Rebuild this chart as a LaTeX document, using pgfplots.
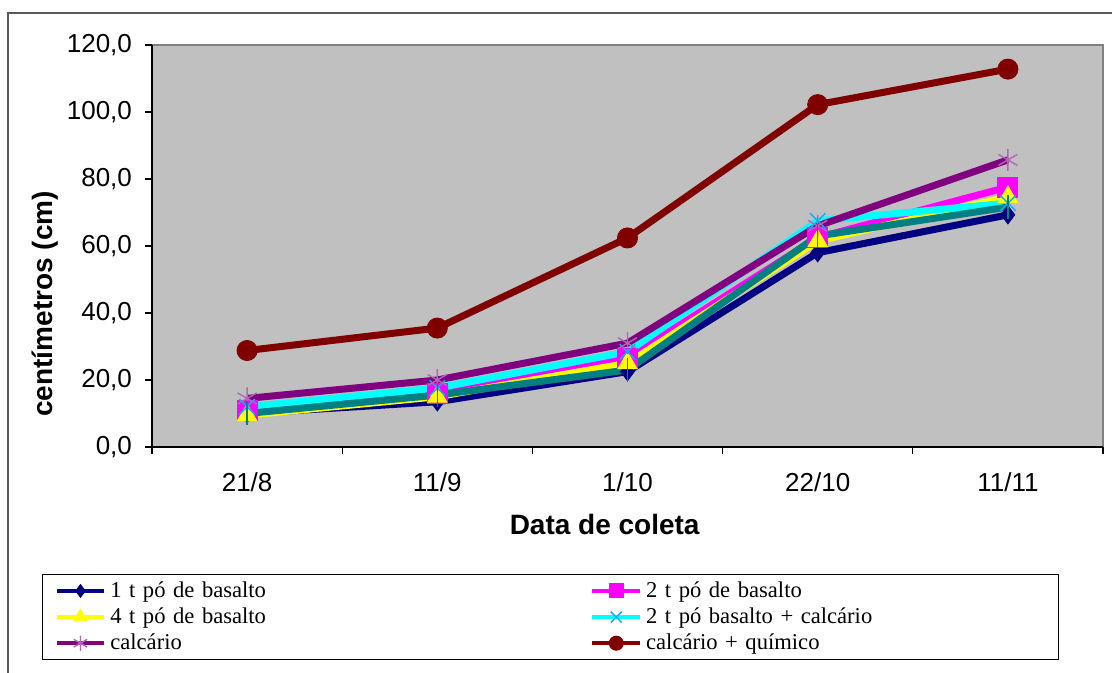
\documentclass[border=0pt]{standalone}
\usepackage{pgfplots}
\pgfplotsset{compat=1.18}
\usepackage{fontspec}
\setmainfont{Liberation Serif}
\newfontfamily\arial{Liberation Sans}
\definecolor{cNavy}{RGB}{0,0,128}
\definecolor{cMag}{RGB}{255,0,255}
\definecolor{cYel}{RGB}{255,255,0}
\definecolor{cCyan}{RGB}{0,255,255}
\definecolor{cPurp}{RGB}{128,0,128}
\definecolor{cRed}{RGB}{128,0,0}
\definecolor{cTeal}{RGB}{0,128,128}
\definecolor{cBg}{RGB}{192,192,192}
\definecolor{cBorder}{RGB}{128,128,128}
\begin{document}
\begin{tikzpicture}
\useasboundingbox (0,0) rectangle (556pt,336.5pt);
\draw[line width=0.8pt, color=black!65] (4pt,0pt) -- (4pt,330pt) -- (556pt,330pt);
\begin{axis}[
  at={(76pt,113pt)}, anchor=south west,
  scale only axis, width=475.5pt, height=201pt,
  xmin=0, xmax=5, ymin=0, ymax=120,
  axis background/.style={fill=cBg, draw=cBorder, line width=0.8pt},
  axis x line*=bottom, axis y line*=left,
  axis line style={black, line width=0.8pt},
  xtick={0,1,2,3,4,5},
  xticklabels={21/8,11/9,1/10,22/10,11/11},
  x tick label as interval,
  ytick={0,20,40,60,80,100,120},
  tick align=outside,
  major tick length=3.5pt,
  tick style={black, line width=0.6pt},
  /pgf/number format/.cd, fixed, fixed zerofill, precision=1, use comma, 1000 sep={}, assume math mode=true,
  /pgfplots/.cd,
  ticklabel style={font=\arial\fontsize{13}{15}\selectfont},
  yticklabel style={xshift=-3pt},
  xticklabel style={yshift=-6pt},
  xlabel={Data de coleta},
  ylabel={centímetros (cm)},
  label style={font=\arial\bfseries\fontsize{14}{16}\selectfont},
  xlabel style={at={(axis description cs:0.476,-0.194)}, anchor=center},
  ylabel style={at={(axis description cs:-0.112,0.356)}, anchor=center},
  legend columns=2,
  legend style={at={(axis description cs:-0.1157,-0.316)}, anchor=north west,
    draw=black, line width=0.6pt, inner xsep=6pt, inner ysep=1.5pt,
    font=\fontsize{11.3}{12.5}\selectfont, row sep=-0.3pt,
    /tikz/column 2/.style={text width=238pt},
    /tikz/column 4/.style={text width=198pt}},
  legend cell align=left,
  legend image code/.code={\draw[line width=2pt, mark repeat=2, mark phase=2, every mark/.append style={scale=0.7}] plot coordinates {(0cm,0cm)(0.42cm,0cm)(0.84cm,0cm)};},
  every axis plot/.append style={line width=3.5pt},
]
\addplot[color=cNavy, mark=diamond*, mark size=4.5pt, mark options={solid, line width=0.5pt}]
  coordinates {(0.5,10) (1.5,13.5) (2.5,22.5) (3.5,58) (4.5,69.3)};
\addlegendentry{1 t pó de basalto}
\addplot[color=cMag, mark=square*, mark size=5pt, mark options={solid, line width=0.5pt}]
  coordinates {(0.5,11) (1.5,16) (2.5,26.5) (3.5,62.5) (4.5,77.6)};
\addlegendentry{2 t pó de basalto}
\addplot[color=cYel, mark=triangle*, mark size=5.5pt, mark options={solid, line width=0.5pt}]
  coordinates {(0.5,9.5) (1.5,15) (2.5,25) (3.5,61.5) (4.5,74.6)};
\addlegendentry{4 t pó de basalto}
\addplot[color=cCyan, mark=x, mark size=5.5pt, mark options={solid, line width=0.7pt, color=cCyan!70!blue}]
  coordinates {(0.5,12) (1.5,17.6) (2.5,28.4) (3.5,67.5) (4.5,72.8)};
\addlegendentry{2 t pó basalto + calcário}
\addplot[color=cPurp, mark=asterisk, mark size=5.5pt, mark options={solid, line width=0.7pt, color=cPurp!60!white}]
  coordinates {(0.5,14.5) (1.5,20) (2.5,31) (3.5,66) (4.5,85.7)};
\addlegendentry{calcário}
\addplot[color=cRed, mark=*, mark size=5pt, mark options={solid, line width=0.5pt}]
  coordinates {(0.5,28.8) (1.5,35.5) (2.5,62.4) (3.5,102.2) (4.5,112.8)};
\addlegendentry{calcário + químico}
\addplot[color=cTeal, mark=|, mark size=6pt, mark options={solid, line width=0.7pt}, forget plot]
  coordinates {(0.5,10) (1.5,15.5) (2.5,23) (3.5,63) (4.5,71.6)};
\end{axis}
\end{tikzpicture}
\end{document}
